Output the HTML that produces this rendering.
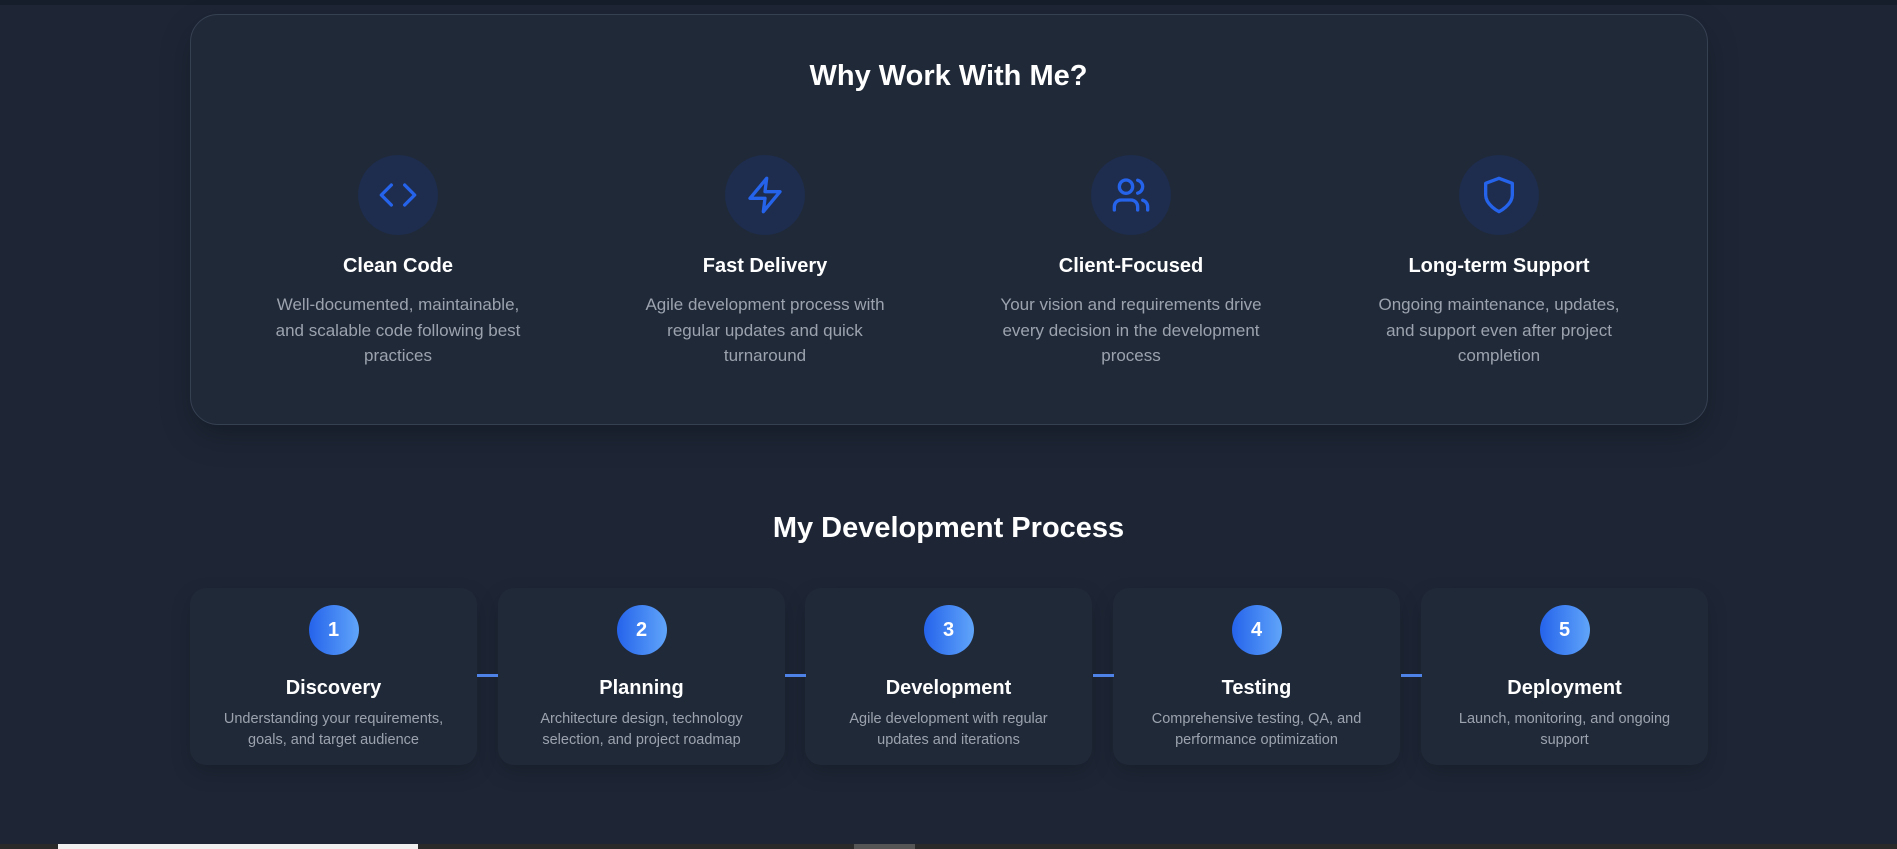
<!DOCTYPE html>
<html><head><meta charset="utf-8"><style>
*{margin:0;padding:0;box-sizing:border-box}
body{width:1897px;height:849px;overflow:hidden;background:#1e2636;font-family:"Liberation Sans",sans-serif;position:relative}
.a{position:absolute}
.card{left:190px;top:14px;width:1518px;height:411px;background:#202938;border:1px solid #354051;border-radius:28px;box-shadow:0 12px 30px rgba(0,0,0,.25)}
h2{position:absolute;left:0;width:1897px;text-align:center;color:#fff;font-size:29px;font-weight:bold}
.col{position:absolute;width:300px;text-align:center}
.ic{width:80px;height:80px;border-radius:50%;background:#1e2d4d;margin:0 auto;display:flex;align-items:center;justify-content:center}
.col h3{color:#fff;font-size:20px;font-weight:bold;margin-top:20px;height:26px}
.col p{color:#9ca3af;font-size:17px;line-height:25.5px;margin-top:11px}
.st{position:absolute;top:588px;width:287px;height:177px;background:#202938;border-radius:16px;box-shadow:0 8px 20px rgba(0,0,0,.2);text-align:center}
.num{width:50px;height:50px;border-radius:50%;background:linear-gradient(90deg,#2563eb,#60a5fa);margin:17px auto 0;color:#fff;font-weight:bold;font-size:20px;line-height:50px}
.st h4{color:#fff;font-size:20px;font-weight:bold;margin-top:22px}
.st p{color:#9ca3af;font-size:14.5px;line-height:20.5px;margin-top:9px;padding:0 12px}
.cn{position:absolute;top:674px;width:21px;height:3px;background:#4f82e6}
</style></head><body>
<div class="a" style="left:0;top:0;width:1897px;height:5px;background:#171e2b"></div>
<div class="a card"></div>
<h2 style="top:60px">Why Work With Me?</h2>
<div class="col" style="left:248px;top:155px"><div class="ic"><svg width="40" height="40" viewBox="0 0 24 24" fill="none" stroke="#2563eb" stroke-width="2" stroke-linecap="round" stroke-linejoin="round"><path d="M16 18l6-6-6-6M8 6l-6 6 6 6"/></svg></div><h3>Clean Code</h3><p>Well-documented, maintainable,<br>and scalable code following best<br>practices</p></div>
<div class="col" style="left:615px;top:155px"><div class="ic"><svg width="40" height="40" viewBox="0 0 24 24" fill="none" stroke="#2563eb" stroke-width="2" stroke-linecap="round" stroke-linejoin="round"><path d="M13 2L3 14h9l-1 8 10-12h-9l1-8z"/></svg></div><h3>Fast Delivery</h3><p>Agile development process with<br>regular updates and quick<br>turnaround</p></div>
<div class="col" style="left:981px;top:155px"><div class="ic"><svg width="40" height="40" viewBox="0 0 24 24" fill="none" stroke="#2563eb" stroke-width="2" stroke-linecap="round" stroke-linejoin="round"><path d="M16 21v-2a4 4 0 0 0-4-4H6a4 4 0 0 0-4 4v2"/><circle cx="9" cy="7" r="4"/><path d="M22 21v-2a4 4 0 0 0-3-3.87M16 3.13a4 4 0 0 1 0 7.75"/></svg></div><h3>Client-Focused</h3><p>Your vision and requirements drive<br>every decision in the development<br>process</p></div>
<div class="col" style="left:1349px;top:155px"><div class="ic"><svg width="40" height="40" viewBox="0 0 24 24" fill="none" stroke="#2563eb" stroke-width="2" stroke-linecap="round" stroke-linejoin="round"><path d="M12 22s8-4 8-10V5l-8-3-8 3v7c0 6 8 10 8 10z"/></svg></div><h3>Long-term Support</h3><p>Ongoing maintenance, updates,<br>and support even after project<br>completion</p></div>
<h2 style="top:512px">My Development Process</h2>
<div class="st" style="left:190px"><div class="num">1</div><h4>Discovery</h4><p>Understanding your requirements,<br>goals, and target audience</p></div>
<div class="st" style="left:498px"><div class="num">2</div><h4>Planning</h4><p>Architecture design, technology<br>selection, and project roadmap</p></div>
<div class="st" style="left:805px"><div class="num">3</div><h4>Development</h4><p>Agile development with regular<br>updates and iterations</p></div>
<div class="st" style="left:1113px"><div class="num">4</div><h4>Testing</h4><p>Comprehensive testing, QA, and<br>performance optimization</p></div>
<div class="st" style="left:1421px"><div class="num">5</div><h4>Deployment</h4><p>Launch, monitoring, and ongoing<br>support</p></div>
<div class="cn" style="left:477px"></div><div class="cn" style="left:785px"></div><div class="cn" style="left:1093px"></div><div class="cn" style="left:1401px"></div>
<div class="a" style="left:0;top:844px;width:1897px;height:5px;background:#2a2a2a"></div>
<div class="a" style="left:58px;top:844px;width:360px;height:5px;background:#f0f0f0"></div>
<div class="a" style="left:854px;top:844px;width:61px;height:5px;background:#555"></div>
</body></html>
